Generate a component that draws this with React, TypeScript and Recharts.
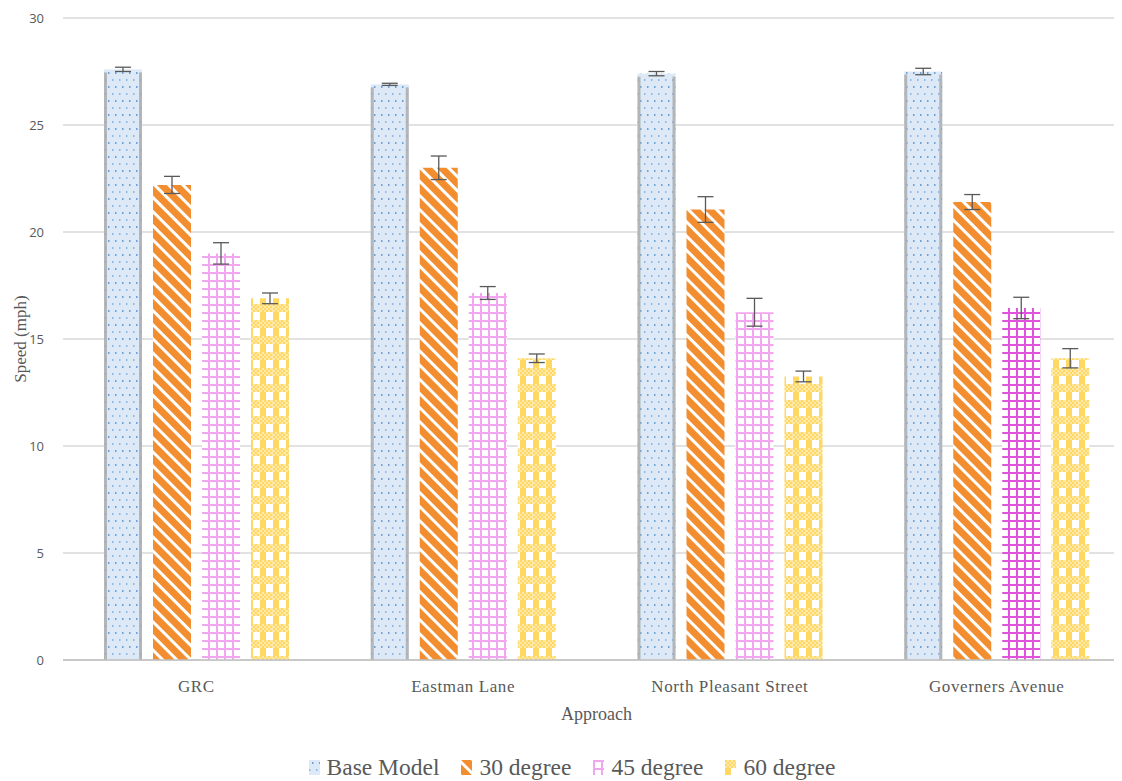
import React from 'react';
import {
  BarChart,
  Bar,
  XAxis,
  YAxis,
  CartesianGrid,
  ErrorBar,
  Cell,
} from 'recharts';

const APPROACHES = ['GRC', 'Eastman Lane', 'North Pleasant Street', 'Governers Avenue'];

const BASE_MODEL = [27.6, 26.9, 27.4, 27.5];
const BASE_ERR = [0.1, 0.05, 0.1, 0.15];
const DEG_30 = [22.2, 23.0, 21.05, 21.4];
const DEG_30_ERR = [0.4, 0.55, 0.6, 0.35];
const DEG_45 = [19.0, 17.15, 16.25, 16.45];
const DEG_45_ERR = [0.5, 0.3, 0.65, 0.5];
const DEG_60 = [16.9, 14.1, 13.25, 14.1];
const DEG_60_ERR = [0.25, 0.2, 0.25, 0.45];

const Y_TICKS = [0, 5, 10, 15, 20, 25, 30];

const SERIES = [
  { key: 'base', label: 'Base Model', fill: 'url(#patBase)' },
  { key: 'd30', label: '30 degree', fill: 'url(#pat30)' },
  { key: 'd45', label: '45 degree', fill: 'url(#pat45)' },
  { key: 'd60', label: '60 degree', fill: 'url(#pat60)' },
];

const data = APPROACHES.map((name, i) => ({
  name,
  base: BASE_MODEL[i],
  baseErr: BASE_ERR[i],
  d30: DEG_30[i],
  d30Err: DEG_30_ERR[i],
  d45: DEG_45[i],
  d45Err: DEG_45_ERR[i],
  d60: DEG_60[i],
  d60Err: DEG_60_ERR[i],
}));

const TEXT = '#595959';
const SERIF = '"Liberation Serif", "DejaVu Serif", serif';

// base model bar has a grey shadow on both sides
const BaseShape = (props: any) => {
  const { x, y, width, height } = props;
  if (!height || height <= 0) return null;
  return (
    <g>
      <rect x={x} y={y} width={width} height={height} fill="url(#patBase)" />
      <rect x={x} y={y + 3} width={3} height={height - 3} fill="#a9a9a9" opacity={0.8} />
      <rect x={x + width - 3} y={y + 3} width={3} height={height - 3} fill="#a9a9a9" opacity={0.8} />
    </g>
  );
};

function Patterns() {
  return (
    <svg width={0} height={0} style={{ position: 'absolute' }}>
      <defs>
        <pattern id="patBase" width={7} height={14} patternUnits="userSpaceOnUse">
          <rect width={7} height={14} fill="#dde9f6" />
          <rect x={3} y={2} width={1.5} height={2} fill="#6aa2d8" />
          <rect x={0} y={9} width={1.5} height={2} fill="#8db9e4" />
        </pattern>
        <pattern id="pat30" width={10} height={10} patternUnits="userSpaceOnUse" patternTransform="rotate(-45)">
          <rect width={10} height={10} fill="#ffffff" />
          <rect width={7} height={10} fill="#f28e2f" />
        </pattern>
        <pattern id="pat45" width={8} height={8} patternUnits="userSpaceOnUse">
          <rect width={8} height={8} fill="#ffffff" />
          <rect x={0} y={0} width={2} height={8} fill="#f1a6ef" />
          <rect x={0} y={0} width={8} height={2} fill="#f1a6ef" />
        </pattern>
        <pattern id="pat45dark" width={8} height={8} patternUnits="userSpaceOnUse">
          <rect width={8} height={8} fill="#ffffff" />
          <rect x={0} y={0} width={2} height={8} fill="#e152dd" />
          <rect x={0} y={0} width={8} height={2} fill="#e152dd" />
        </pattern>
        <pattern id="pat60" width={13} height={16} patternUnits="userSpaceOnUse">
          <rect width={13} height={16} fill="#ffffff" />
          <rect x={0} y={0} width={6} height={16} fill="#ffd863" />
          <rect x={0} y={0} width={13} height={8} fill="#ffe9a8" />
          <rect x={0} y={0} width={2} height={2} fill="#ffd863" />
          <rect x={4} y={0} width={2} height={2} fill="#ffd863" />
          <rect x={8} y={0} width={2} height={2} fill="#ffd863" />
          <rect x={2} y={2} width={2} height={2} fill="#ffd863" />
          <rect x={6} y={2} width={2} height={2} fill="#ffd863" />
          <rect x={10} y={2} width={2} height={2} fill="#ffd863" />
          <rect x={0} y={4} width={2} height={2} fill="#ffd863" />
          <rect x={4} y={4} width={2} height={2} fill="#ffd863" />
          <rect x={8} y={4} width={2} height={2} fill="#ffd863" />
          <rect x={2} y={6} width={2} height={2} fill="#ffd863" />
          <rect x={6} y={6} width={2} height={2} fill="#ffd863" />
          <rect x={10} y={6} width={2} height={2} fill="#ffd863" />
        </pattern>
      </defs>
    </svg>
  );
}

export default function App() {
  return (
    <div style={{ margin: -8, width: 1130, height: 789, background: '#fff', position: 'relative', overflow: 'hidden' }}>
      <Patterns />
      <BarChart
        width={1130}
        height={781}
        data={data}
        margin={{ top: 18, right: 0, left: 0, bottom: 50 }}
        barSize={38}
        barGap={11}
      >
        <CartesianGrid vertical={false} stroke="#d9d9d9" strokeWidth={1.3} />
        <XAxis
          dataKey="name"
          height={71}
          tickLine={false}
          axisLine={{ stroke: '#bfbfbf', strokeWidth: 1.3 }}
          tick={{ fill: TEXT, fontSize: 17, fontFamily: SERIF, letterSpacing: 0.6 }}
          tickMargin={14}
          label={{
            value: 'Approach',
            position: 'insideBottom',
            offset: 11,
            fill: TEXT,
            fontSize: 18,
            fontFamily: SERIF,
          }}
        />
        <YAxis
          width={63}
          domain={[0, 30]}
          ticks={Y_TICKS}
          interval={0}
          tickLine={false}
          axisLine={false}
          tickSize={0}
          tickMargin={19}
          tick={{ fill: TEXT, fontSize: 13, fontFamily: '"Open Sans", sans-serif' }}
          label={{
            value: 'Speed (mph)',
            angle: -90,
            position: 'insideLeft',
            offset: 20,
            style: { textAnchor: 'middle' },
            fill: TEXT,
            fontSize: 17,
            fontFamily: SERIF,
          }}
        />
        <Bar dataKey="base" name="Base Model" fill="url(#patBase)" shape={BaseShape} isAnimationActive={false}>
          <ErrorBar dataKey="baseErr" width={8} stroke="#595959" strokeWidth={1.3} direction="y" />
        </Bar>
        <Bar dataKey="d30" name="30 degree" fill="url(#pat30)" isAnimationActive={false}>
          <ErrorBar dataKey="d30Err" width={8} stroke="#595959" strokeWidth={1.3} direction="y" />
        </Bar>
        <Bar dataKey="d45" name="45 degree" fill="url(#pat45)" isAnimationActive={false}>
          {data.map((_, i) => (
            <Cell key={i} fill={i === 3 ? 'url(#pat45dark)' : 'url(#pat45)'} />
          ))}
          <ErrorBar dataKey="d45Err" width={8} stroke="#595959" strokeWidth={1.3} direction="y" />
        </Bar>
        <Bar dataKey="d60" name="60 degree" fill="url(#pat60)" isAnimationActive={false}>
          <ErrorBar dataKey="d60Err" width={8} stroke="#595959" strokeWidth={1.3} direction="y" />
        </Bar>
      </BarChart>
      {/* legend sits below the axis title */}
      <div
        style={{
          position: 'absolute',
          left: 0,
          width: 1130,
          top: 754,
          height: 26,
          display: 'flex',
          justifyContent: 'center',
          alignItems: 'center',
          gap: 22,
          paddingLeft: 14,
          boxSizing: 'border-box',
          fontFamily: SERIF,
          fontSize: 23.5,
          lineHeight: '26px',
          color: TEXT,
        }}
      >
        {SERIES.map((s) => (
          <span key={s.key} style={{ display: 'flex', alignItems: 'center', gap: 7 }}>
            <svg width={11} height={15}>
              <rect width={11} height={15} fill={s.fill} />
            </svg>
            {s.label}
          </span>
        ))}
      </div>
    </div>
  );
}
